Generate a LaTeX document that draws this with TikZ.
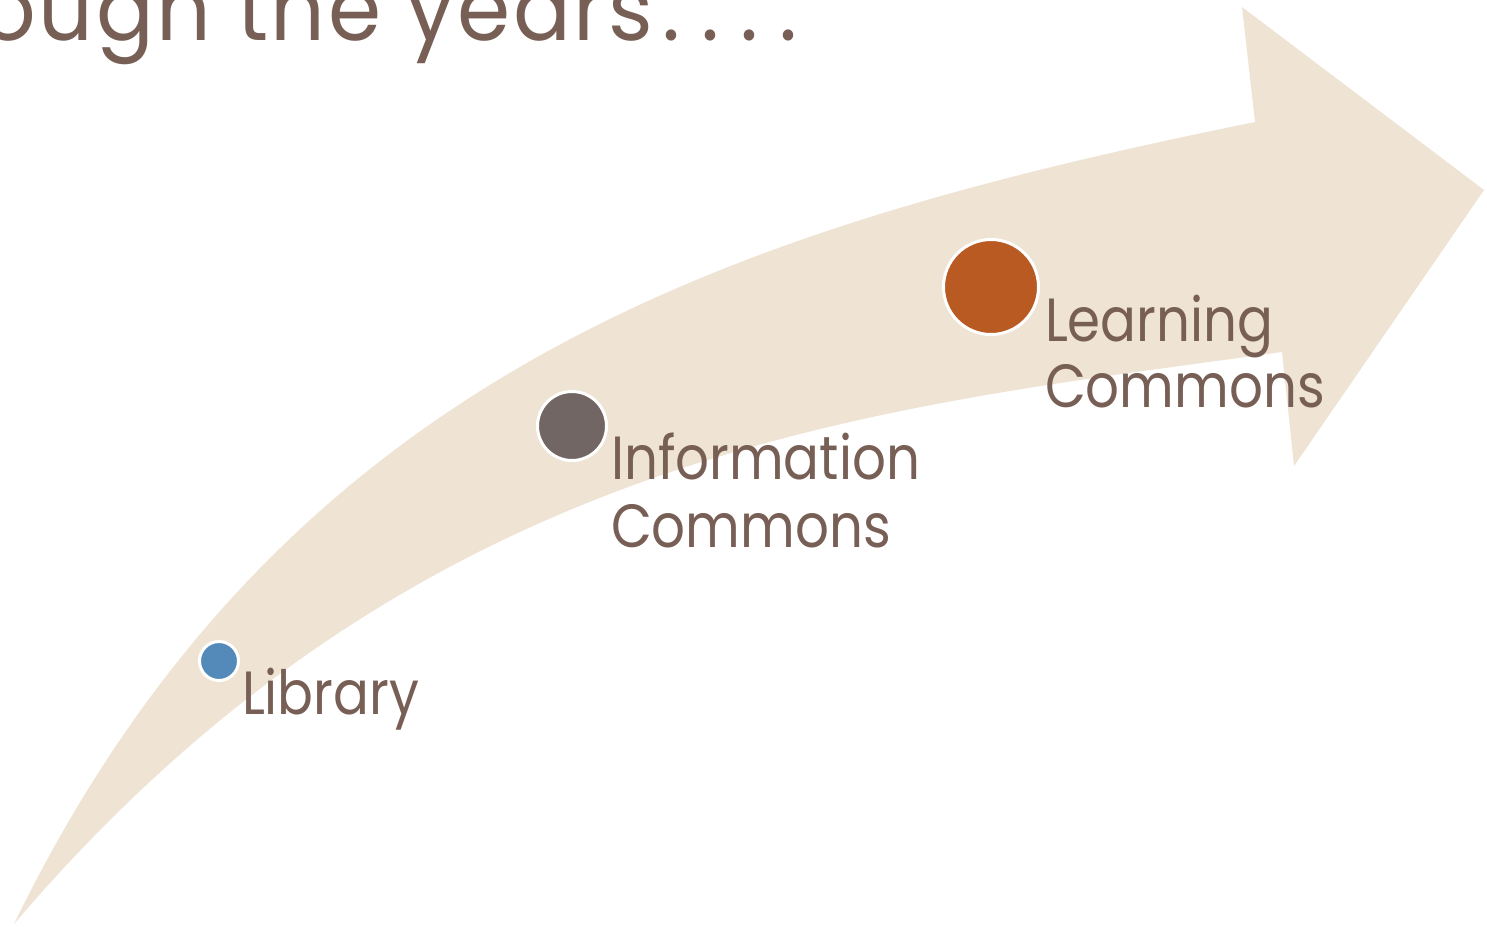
\documentclass[tikz,border=0pt]{standalone}
\usepackage{fontspec}
\setmainfont{Poppins}[FakeStretch=0.87]
\newfontfamily\titlefam{Poppins}[LetterSpace=3,FakeStretch=0.95]
\definecolor{bandfill}{HTML}{EFE4D4}
\definecolor{txtbrown}{HTML}{785F55}
\definecolor{dotblue}{HTML}{548AB9}
\definecolor{dotgray}{HTML}{726665}
\definecolor{dotorange}{HTML}{B85A22}
\tikzset{
  lbl/.style={inner sep=0pt, outer sep=0pt, text=txtbrown, font=\fontsize{61}{70}\selectfont, anchor=base west},
  ttl/.style={inner sep=0pt, outer sep=0pt, text=txtbrown, font=\titlefam\fontsize{90}{100}\selectfont, anchor=base east},
  dot/.style={circle, inner sep=0pt, draw=white, line width=3pt}
}
\begin{document}
\begin{tikzpicture}[x=1pt,y=-1pt]
\useasboundingbox (0,0) rectangle (1487,926);
\fill[white] (0,0) rectangle (1487,926);
\begin{scope}
\clip (0,0) rectangle (1487,926);
\node[ttl] (title) at (797,40) {ough the years\kern9pt.\kern21pt.\kern21pt.\kern21pt.};
\end{scope}
\fill[bandfill] (14,924) .. controls (284,369) and (739,227) .. (1255,122)
  -- (1242,7) -- (1484,190) -- (1294,466) -- (1282,352)
  .. controls (882,408) and (423.5,443) .. (14,924) -- cycle;
\node[dot, fill=dotblue, minimum size=39pt] (lib) at (219,661) {};
\node[dot, fill=dotgray, minimum size=69pt] (info) at (572,426) {};
\node[dot, fill=dotorange, minimum size=95pt] (learn) at (991,287) {};
\node[lbl] (libtxt) at (242,714) {Library};
\node[lbl] (infotxt1) at (611,479) {Information};
\node[lbl] (infotxt2) at (611,547) {Commons};
\node[lbl] (learntxt1) at (1045,341) {Learning};
\node[lbl] (learntxt2) at (1045,407) {Commons};
\end{tikzpicture}
\end{document}
